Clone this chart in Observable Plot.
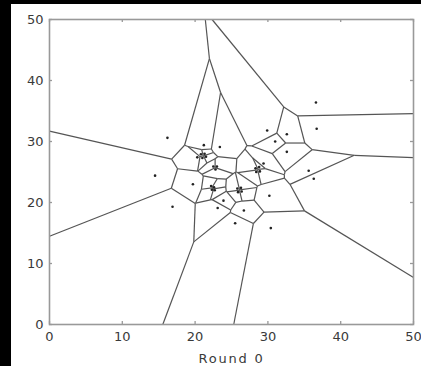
<!DOCTYPE html>
<html>
<head>
<meta charset="utf-8">
<script src="https://cdn.jsdelivr.net/npm/d3@7"></script>
<script src="https://cdn.jsdelivr.net/npm/@observablehq/plot@0.6"></script>
<style>
  html, body { margin: 0; padding: 0; background: #000; width: 421px; height: 366px; overflow: hidden; }
  #chart { position: absolute; left: 11px; top: 4px; }
  #chart svg [aria-label="x-axis label"] text { letter-spacing: 1.8px; }
</style>
</head>
<body>
<div id="chart"></div>
<script>
// Node positions
const nodeX = [36.6, 36.7, 32.6, 29.9, 31.0, 32.6, 16.2, 14.5, 16.9, 19.7, 21.2, 23.4, 23.1, 23.9, 26.7, 25.5, 30.2, 30.4, 35.6, 36.3, 29.4,
  28.3, 28.8, 28.9, 28.4,
  25.8, 26.3, 26.4, 25.9,
  22.2, 22.6, 22.3, 22.7,
  22.5, 23.0, 22.8,
  20.8, 21.3, 21.0, 21.5, 20.3];
const nodeY = [36.4, 32.1, 31.2, 31.8, 30.0, 28.3, 30.6, 24.4, 19.3, 23.0, 29.4, 29.1, 19.1, 20.3, 18.7, 16.6, 21.1, 15.8, 25.2, 23.9, 26.4,
  25.6, 25.8, 25.1, 25.0,
  22.3, 22.4, 21.8, 21.7,
  22.7, 22.5, 22.1, 22.0,
  25.9, 25.9, 25.4,
  27.9, 28.0, 27.3, 27.5, 27.4];
const xTicks = [0, 10, 20, 30, 40, 50];
const yTicks = [0, 10, 20, 30, 40, 50];
const xLabel = "Round 0";
const domain = [0, 50];

const nodes = nodeX.map((x, i) => ({x, y: nodeY[i]}));

// Voronoi diagram computed in data space, clipped to the axes box
const vor = d3.Delaunay.from(nodes, d => d.x, d => d.y).voronoi([domain[0], domain[0], domain[1], domain[1]]);
const seen = new Set();
const edges = [];
const onSameBound = (a, b) =>
  (a[0] === domain[0] && b[0] === domain[0]) || (a[0] === domain[1] && b[0] === domain[1]) ||
  (a[1] === domain[0] && b[1] === domain[0]) || (a[1] === domain[1] && b[1] === domain[1]);
const key = p => p.map(v => v.toFixed(6)).join(",");
for (const poly of vor.cellPolygons()) {
  for (let i = 0; i < poly.length - 1; i++) {
    const a = poly[i], b = poly[i + 1];
    if (onSameBound(a, b)) continue;
    const k1 = key(a) + "|" + key(b), k2 = key(b) + "|" + key(a);
    if (seen.has(k1) || seen.has(k2)) continue;
    seen.add(k1);
    edges.push({x1: a[0], y1: a[1], x2: b[0], y2: b[1]});
  }
}

const W = 410, H = 362, mL = 38, mT = 15, mR = 8, mB = 42;
const plotH = H - mT - mB, plotW = W - mL - mR;
const font = "'DejaVu Sans', Arial, Helvetica, sans-serif";

const chart = Plot.plot({
  width: W, height: H,
  marginLeft: mL, marginTop: mT, marginRight: mR, marginBottom: mB,
  style: {background: "white", fontFamily: font, fontSize: "13px", color: "#3a3a3a"},
  x: {domain, ticks: xTicks},
  y: {domain, ticks: yTicks},
  marks: [
    Plot.link(edges, {x1: "x1", y1: "y1", x2: "x2", y2: "y2", stroke: "#555", strokeWidth: 1.2}),
    Plot.dot(nodes, {x: "x", y: "y", r: 1.3, fill: "#222", stroke: "none"}),
    Plot.tickX(xTicks, {x: d => d, insetTop: plotH - 3, stroke: "#999", strokeWidth: 1.3}),
    Plot.tickX(xTicks, {x: d => d, insetBottom: plotH - 3, stroke: "#999", strokeWidth: 1.3}),
    Plot.tickY(yTicks, {y: d => d, insetRight: plotW - 3, stroke: "#999", strokeWidth: 1.3}),
    Plot.tickY(yTicks, {y: d => d, insetLeft: plotW - 3, stroke: "#999", strokeWidth: 1.3}),
    Plot.frame({stroke: "#999", strokeWidth: 1.6}),
    Plot.axisX(xTicks, {anchor: "bottom", tickSize: 0, tickPadding: 7, fontSize: 13, label: xLabel, labelAnchor: "center", labelArrow: "none", labelOffset: 38}),
    Plot.axisY(yTicks, {anchor: "left", tickSize: 0, tickPadding: 6, fontSize: 13, label: null})
  ]
});
document.getElementById("chart").appendChild(chart);
</script>
</body>
</html>
